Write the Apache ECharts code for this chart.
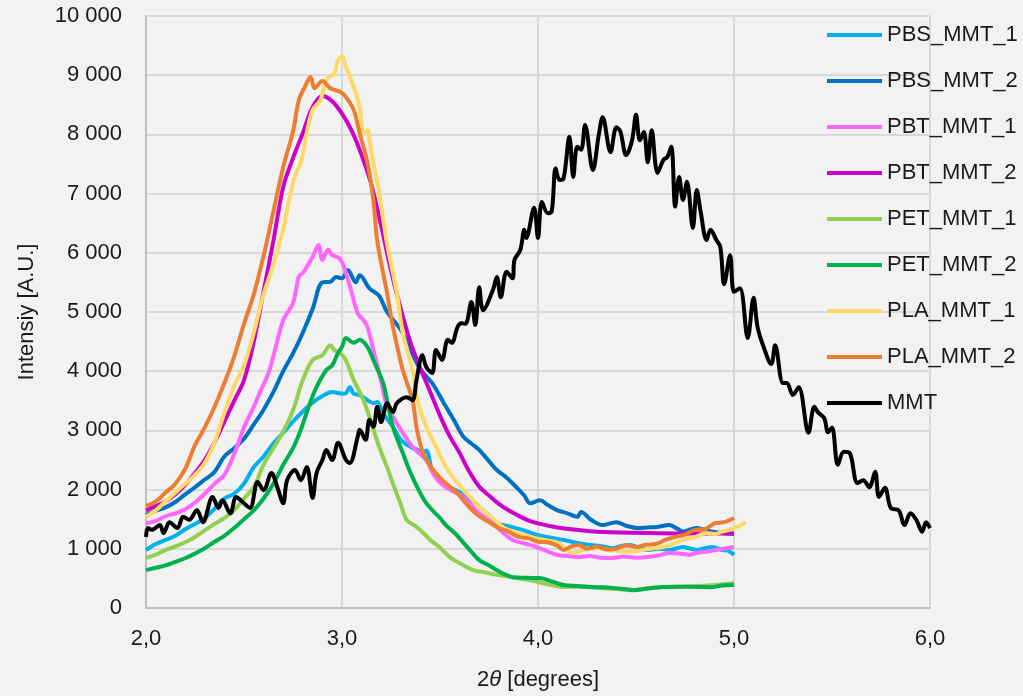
<!DOCTYPE html>
<html>
<head>
<meta charset="utf-8">
<script src="https://cdn.jsdelivr.net/npm/echarts@6/dist/echarts.min.js"></script>
<style>
html,body{margin:0;padding:0;background:#f2f2f2;}
#chart{width:1023px;height:696px;}
</style>
</head>
<body>
<div id="chart"></div>
<script>
// Axis ticks
const xTicks = [2, 3, 4, 5, 6];
const yTicks = [0, 1000, 2000, 3000, 4000, 5000, 6000, 7000, 8000, 9000, 10000];

const seriesNames = ['PBS_MMT_1','PBS_MMT_2','PBT_MMT_1','PBT_MMT_2','PET_MMT_1','PET_MMT_2','PLA_MMT_1','PLA_MMT_2','MMT'];

const PBS_MMT_1 = [[2.0,980],[2.05,1080],[2.1,1150],[2.15,1220],[2.2,1330],[2.25,1420],[2.3,1520],[2.35,1680],[2.4,1850],[2.45,1930],[2.5,2100],[2.55,2380],[2.6,2560],[2.65,2780],[2.7,2960],[2.75,3150],[2.8,3320],[2.85,3470],[2.9,3580],[2.95,3650],[3.0,3620],[3.02,3630],[3.04,3730],[3.06,3620],[3.09,3600],[3.13,3510],[3.16,3460],[3.18,3480],[3.21,3290],[3.26,3060],[3.3,2840],[3.35,2720],[3.38,2680],[3.41,2620],[3.43,2660],[3.46,2330],[3.5,2180],[3.55,2040],[3.6,1960],[3.65,1850],[3.7,1710],[3.75,1560],[3.79,1435],[3.85,1380],[3.92,1320],[4.0,1230],[4.06,1190],[4.13,1150],[4.2,1100],[4.27,1065],[4.33,1040],[4.38,1010],[4.43,1050],[4.47,1065],[4.52,1010],[4.56,980],[4.62,1000],[4.67,980],[4.74,1030],[4.78,1000],[4.81,980],[4.85,1010],[4.89,1030],[4.94,980],[4.97,970],[5.0,895]];

const PBS_MMT_2 = [[2.0,1570],[2.05,1640],[2.1,1700],[2.15,1790],[2.2,1920],[2.25,2040],[2.3,2170],[2.35,2300],[2.4,2560],[2.45,2700],[2.5,2860],[2.55,3100],[2.6,3350],[2.65,3650],[2.7,4000],[2.75,4300],[2.8,4650],[2.85,5050],[2.9,5500],[2.94,5510],[2.97,5590],[3.0,5570],[3.03,5710],[3.07,5500],[3.09,5620],[3.14,5400],[3.19,5270],[3.23,5000],[3.3,4700],[3.35,4360],[3.4,4030],[3.46,3800],[3.52,3460],[3.57,3180],[3.62,2890],[3.66,2780],[3.7,2670],[3.75,2480],[3.79,2330],[3.84,2200],[3.89,2040],[3.93,1900],[3.96,1770],[4.01,1820],[4.05,1740],[4.1,1650],[4.15,1600],[4.2,1540],[4.22,1620],[4.27,1490],[4.33,1400],[4.37,1430],[4.4,1450],[4.45,1390],[4.51,1350],[4.56,1360],[4.61,1370],[4.67,1400],[4.71,1340],[4.74,1290],[4.78,1330],[4.81,1350],[4.85,1320],[4.89,1290],[4.94,1265],[5.0,1250]];

const PBT_MMT_1 = [[2.0,1430],[2.05,1470],[2.1,1550],[2.15,1600],[2.2,1670],[2.25,1780],[2.3,1930],[2.35,2100],[2.4,2250],[2.45,2600],[2.5,3050],[2.55,3400],[2.58,3630],[2.63,4020],[2.7,4860],[2.75,5150],[2.78,5600],[2.8,5660],[2.82,5760],[2.85,5930],[2.88,6130],[2.9,5880],[2.93,6050],[2.95,5960],[2.99,5900],[3.02,5660],[3.05,5320],[3.08,4980],[3.11,4860],[3.13,4750],[3.16,4360],[3.19,3970],[3.23,3400],[3.26,3230],[3.31,2960],[3.36,2720],[3.43,2500],[3.46,2300],[3.49,2150],[3.53,2040],[3.58,1950],[3.62,1875],[3.66,1730],[3.7,1600],[3.75,1470],[3.79,1370],[3.83,1250],[3.87,1150],[3.92,1100],[3.96,1065],[4.03,980],[4.1,895],[4.15,880],[4.21,860],[4.26,880],[4.32,850],[4.38,845],[4.44,870],[4.5,850],[4.56,860],[4.62,890],[4.67,930],[4.72,920],[4.77,900],[4.81,930],[4.86,950],[4.91,980],[4.96,1010],[5.0,1030]];

const PBT_MMT_2 = [[2.0,1650],[2.05,1720],[2.1,1800],[2.15,1920],[2.2,2080],[2.25,2280],[2.3,2500],[2.35,2800],[2.4,3150],[2.45,3500],[2.5,3850],[2.55,4500],[2.6,5350],[2.65,6200],[2.7,7110],[2.75,7600],[2.8,8020],[2.85,8460],[2.9,8650],[2.95,8560],[3.0,8350],[3.05,8060],[3.1,7650],[3.15,7150],[3.2,6450],[3.25,5700],[3.3,5050],[3.35,4480],[3.4,4050],[3.45,3650],[3.5,3250],[3.55,2900],[3.6,2620],[3.65,2300],[3.7,2050],[3.75,1900],[3.8,1760],[3.85,1650],[3.9,1560],[3.95,1480],[4.0,1430],[4.1,1360],[4.2,1320],[4.3,1290],[4.5,1270],[4.7,1260],[5.0,1260]];

const PET_MMT_1 = [[2.0,845],[2.05,900],[2.1,980],[2.15,1040],[2.2,1110],[2.25,1200],[2.3,1310],[2.35,1420],[2.4,1520],[2.45,1650],[2.5,1850],[2.55,2040],[2.6,2420],[2.65,2700],[2.7,2980],[2.75,3340],[2.8,3850],[2.85,4190],[2.9,4270],[2.94,4440],[2.96,4360],[3.01,4240],[3.06,3850],[3.11,3510],[3.14,3230],[3.19,2720],[3.23,2380],[3.26,2100],[3.3,1750],[3.33,1490],[3.38,1370],[3.42,1250],[3.45,1150],[3.5,1020],[3.55,860],[3.6,760],[3.67,640],[3.73,600],[3.79,560],[3.87,520],[3.96,470],[4.05,400],[4.13,355],[4.2,360],[4.3,340],[4.4,320],[4.47,300],[4.55,330],[4.64,355],[4.72,360],[4.81,370],[4.9,390],[5.0,420]];

const PET_MMT_2 = [[2.0,640],[2.05,680],[2.1,720],[2.15,780],[2.2,840],[2.25,920],[2.3,1010],[2.35,1120],[2.4,1220],[2.45,1350],[2.5,1500],[2.55,1650],[2.6,1850],[2.65,2100],[2.7,2420],[2.75,2700],[2.79,3010],[2.83,3400],[2.87,3730],[2.92,4020],[2.95,4100],[2.98,4310],[3.0,4410],[3.02,4560],[3.06,4480],[3.09,4530],[3.13,4410],[3.16,4190],[3.21,3800],[3.23,3510],[3.26,3060],[3.31,2620],[3.35,2280],[3.39,2000],[3.43,1770],[3.47,1620],[3.5,1520],[3.53,1400],[3.58,1250],[3.62,1100],[3.66,950],[3.7,810],[3.75,720],[3.79,640],[3.83,570],[3.87,520],[3.94,510],[4.01,505],[4.07,450],[4.13,390],[4.2,370],[4.27,355],[4.33,350],[4.38,340],[4.44,320],[4.49,300],[4.56,330],[4.64,355],[4.72,360],[4.81,355],[4.88,350],[4.94,380],[5.0,390]];

const PLA_MMT_1 = [[2.0,1540],[2.05,1650],[2.1,1800],[2.15,1950],[2.2,2100],[2.25,2250],[2.3,2450],[2.35,2800],[2.4,3300],[2.45,3750],[2.5,4100],[2.55,4650],[2.6,5300],[2.65,5800],[2.7,6400],[2.73,6890],[2.76,7300],[2.79,7520],[2.82,8020],[2.85,8410],[2.89,8580],[2.92,8920],[2.96,9030],[2.98,9260],[3.0,9320],[3.02,9140],[3.04,8970],[3.07,8700],[3.09,8460],[3.11,8020],[3.13,8070],[3.14,7900],[3.16,7520],[3.19,7000],[3.23,6150],[3.28,5320],[3.31,4650],[3.36,4020],[3.39,3460],[3.43,3060],[3.48,2720],[3.53,2380],[3.58,2150],[3.62,1990],[3.66,1850],[3.7,1710],[3.76,1540],[3.82,1370],[3.88,1280],[3.96,1200],[4.03,1150],[4.1,1100],[4.14,1000],[4.18,930],[4.24,990],[4.3,1010],[4.38,970],[4.47,950],[4.55,990],[4.64,1030],[4.7,1100],[4.74,1150],[4.8,1200],[4.86,1265],[4.9,1250],[4.94,1290],[5.0,1350],[5.06,1450]];

const PLA_MMT_2 = [[2.0,1720],[2.05,1800],[2.1,1950],[2.15,2100],[2.2,2350],[2.25,2750],[2.3,3050],[2.35,3400],[2.4,3800],[2.45,4250],[2.5,4800],[2.55,5300],[2.6,5950],[2.65,6700],[2.7,7450],[2.75,8050],[2.78,8580],[2.81,8800],[2.84,8970],[2.86,8780],[2.9,8900],[2.94,8780],[2.99,8720],[3.02,8630],[3.06,8410],[3.09,8020],[3.13,7520],[3.16,6890],[3.18,6200],[3.23,5320],[3.26,4750],[3.31,4020],[3.36,3510],[3.38,3060],[3.41,2650],[3.45,2400],[3.5,2200],[3.55,2050],[3.6,1900],[3.65,1700],[3.7,1550],[3.75,1450],[3.8,1350],[3.85,1290],[3.9,1200],[3.95,1180],[4.0,1120],[4.05,1110],[4.1,1050],[4.13,980],[4.17,1040],[4.21,1065],[4.25,1000],[4.3,1040],[4.35,990],[4.4,1000],[4.45,1060],[4.5,1030],[4.55,1070],[4.6,1080],[4.65,1150],[4.7,1200],[4.75,1240],[4.8,1320],[4.85,1330],[4.9,1430],[4.95,1450],[5.0,1520]];

const MMT = [[2.0,1200],[2.01,1350],[2.03,1320],[2.07,1400],[2.09,1265],[2.12,1450],[2.16,1350],[2.19,1540],[2.22,1490],[2.26,1650],[2.29,1450],[2.34,1875],[2.37,1690],[2.39,1820],[2.43,1600],[2.46,1875],[2.49,1800],[2.53,1690],[2.57,2130],[2.6,1990],[2.64,2280],[2.67,2040],[2.7,1770],[2.72,2160],[2.76,2330],[2.79,2160],[2.82,2380],[2.85,1860],[2.87,2280],[2.9,2500],[2.92,2670],[2.95,2500],[2.98,2790],[3.02,2500],[3.04,2450],[3.08,2890],[3.09,3010],[3.12,2840],[3.14,3180],[3.16,3060],[3.18,3400],[3.2,3140],[3.23,3460],[3.26,3310],[3.28,3460],[3.33,3560],[3.36,3510],[3.38,3850],[3.41,4270],[3.43,4070],[3.46,3970],[3.48,4360],[3.51,4190],[3.54,4530],[3.56,4480],[3.59,4750],[3.61,4810],[3.63,4800],[3.66,5170],[3.68,4780],[3.7,5420],[3.72,5030],[3.77,5370],[3.79,5590],[3.81,5250],[3.84,5680],[3.87,5570],[3.88,5880],[3.91,6050],[3.93,6390],[3.94,6250],[3.98,6760],[4.0,6250],[4.02,6860],[4.05,6670],[4.07,6700],[4.09,7430],[4.11,7230],[4.13,7250],[4.16,7960],[4.18,7280],[4.2,7790],[4.22,7740],[4.24,8160],[4.28,7400],[4.31,7990],[4.33,8290],[4.37,7700],[4.4,8120],[4.42,8050],[4.45,7650],[4.48,7900],[4.5,8330],[4.52,7900],[4.54,8040],[4.56,7530],[4.58,8070],[4.61,7350],[4.64,7570],[4.66,7620],[4.68,7790],[4.7,6780],[4.72,7280],[4.74,6890],[4.76,7200],[4.79,6420],[4.81,7060],[4.83,6690],[4.86,6216],[4.88,6390],[4.91,6216],[4.93,6100],[4.95,5470],[4.98,5960],[5.0,5340],[5.03,5400],[5.07,4560],[5.1,5240],[5.12,4750],[5.15,4420],[5.19,4120],[5.21,4440],[5.25,3800],[5.27,3800],[5.3,3600],[5.33,3730],[5.38,2960],[5.41,3400],[5.43,3300],[5.46,3210],[5.48,2970],[5.5,3050],[5.53,2420],[5.56,2640],[5.59,2620],[5.63,2110],[5.66,2160],[5.69,2040],[5.72,2300],[5.74,1875],[5.77,2030],[5.8,1690],[5.84,1650],[5.87,1400],[5.9,1600],[5.93,1490],[5.96,1290],[5.98,1450],[6.0,1350]];

const seriesData = [PBS_MMT_1, PBS_MMT_2, PBT_MMT_1, PBT_MMT_2, PET_MMT_1, PET_MMT_2, PLA_MMT_1, PLA_MMT_2, MMT];
const colors = ['#00B0F0','#0070C0','#FF66FF','#CC00CC','#92D050','#00B050','#FFD966','#ED7D31','#000000'];

const FONT = 'Liberation Sans';
const chart = echarts.init(document.getElementById('chart'), null, {renderer: 'canvas'});
chart.setOption({
  backgroundColor: '#f2f2f2',
  animation: false,
  color: colors,
  grid: {left: 146, right: 93, top: 16, bottom: 88, containLabel: false},
  legend: {
    orient: 'vertical',
    left: 822,
    top: 19,
    itemWidth: 55,
    itemHeight: 4,
    itemGap: 24,
    icon: 'rect',
    data: seriesNames,
    textStyle: {fontFamily: FONT, fontSize: 22, color: '#1a1a1a', lineHeight: 22, padding: [0,0,0,0]}
  },
  xAxis: {
    type: 'value',
    min: xTicks[0], max: xTicks[xTicks.length-1], interval: 1,
    name: '2{i|θ} [degrees]',
    nameLocation: 'middle',
    nameGap: 61,
    nameTextStyle: {fontFamily: FONT, fontSize: 22, color: '#1a1a1a',
      rich: {i: {fontFamily: FONT, fontSize: 22, fontStyle: 'italic', color: '#1a1a1a'}}},
    axisLine: {show: true, lineStyle: {color: '#bfbfbf', width: 2}},
    axisTick: {show: false},
    splitLine: {show: true, lineStyle: {color: '#d9d9d9', width: 2}},
    axisLabel: {fontFamily: FONT, fontSize: 22, color: '#1a1a1a', margin: 20,
      formatter: v => v.toFixed(1).replace('.', ',')}
  },
  yAxis: {
    type: 'value',
    min: yTicks[0], max: yTicks[yTicks.length-1], interval: 1000,
    name: 'Intensiy [A.U.]',
    nameLocation: 'middle',
    nameGap: 108,
    nameTextStyle: {fontFamily: FONT, fontSize: 22, color: '#1a1a1a'},
    axisLine: {show: true, lineStyle: {color: '#bfbfbf', width: 2}},
    axisTick: {show: false},
    splitLine: {show: true, lineStyle: {color: '#d9d9d9', width: 2}},
    axisLabel: {fontFamily: FONT, fontSize: 22, color: '#1a1a1a', margin: 24,
      formatter: v => String(v).replace(/\B(?=(\d{3})+(?!\d))/g, ' ')}
  },
  series: seriesNames.map((n, i) => ({
    name: n,
    type: 'line',
    data: seriesData[i],
    showSymbol: false,
    symbol: 'none',
    smooth: 0.35,
    lineStyle: {width: 4, color: colors[i]},
    itemStyle: {color: colors[i]},
    z: 2 + i
  }))
});
</script>
</body>
</html>
